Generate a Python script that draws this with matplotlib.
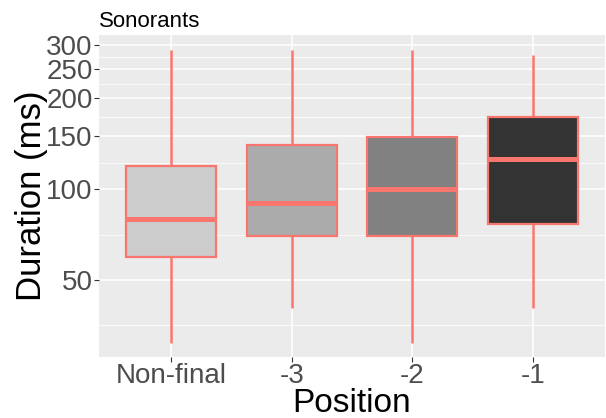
import numpy as np
import matplotlib.pyplot as plt
from matplotlib.ticker import FixedLocator, NullFormatter

plt.rcParams['font.family'] = ['Liberation Sans', 'DejaVu Sans']

# duration summaries (ms) per position
positions = ["Non-final", "-3", "-2", "-1"]
whisker_low = [31.0, 40.4, 31.0, 40.4]
q1 = [59.8, 70.0, 70.0, 76.4]
median = [79.7, 89.9, 100.0, 125.7]
q3 = [119.4, 139.9, 149.4, 173.0]
whisker_high = [289, 289, 289, 279]
fills = ["#CCCCCC", "#ABABAB", "#818181", "#333333"]

y_breaks = [50, 100, 150, 200, 250, 300]
y_minor = [35.36, 70.71, 122.47, 173.21, 223.61, 273.86]

stats = []
for i, lab in enumerate(positions):
    stats.append(dict(label=lab, whislo=whisker_low[i], q1=q1[i], med=median[i],
                      q3=q3[i], whishi=whisker_high[i], fliers=[]))

W, H = 606, 418
fig = plt.figure(figsize=(W / 100, H / 100), dpi=100)
ax = fig.add_axes([99 / W, (H - 357) / H, 506 / W, 322 / H])
ax.set_facecolor("#EBEBEB")

edge = "#F8766D"
xs = np.arange(1, len(positions) + 1)
bp = ax.bxp(stats, positions=xs, widths=0.75, patch_artist=True, showcaps=False,
            boxprops=dict(edgecolor=edge, linewidth=1.6),
            whiskerprops=dict(color=edge, linewidth=1.8, solid_capstyle="butt"),
            medianprops=dict(color=edge, linewidth=3.6, solid_capstyle="butt"))
for patch, c in zip(bp["boxes"], fills):
    patch.set_facecolor(c)
    patch.set_zorder(3)
for ln in bp["whiskers"]:
    ln.set_zorder(2.5)
for ln in bp["medians"]:
    ln.set_zorder(4)

ax.set_yscale("log")
ax.set_ylim(27.8, 324)
ax.set_xlim(0.4, 4.6)
ax.yaxis.set_major_locator(FixedLocator(y_breaks))
ax.yaxis.set_minor_locator(FixedLocator(y_minor))
ax.yaxis.set_major_formatter(plt.FixedFormatter([str(b) for b in y_breaks]))
ax.yaxis.set_minor_formatter(NullFormatter())
ax.set_xticks(xs)
ax.set_xticklabels(positions)

ax.grid(True, which="major", color="white", linewidth=1.1)
ax.grid(True, which="minor", axis="y", color="white", linewidth=0.55)
ax.set_axisbelow(True)
for s in ax.spines.values():
    s.set_visible(False)

ax.tick_params(axis="both", which="major", length=3.5, width=0.8, color="#333333",
               labelsize=20, labelcolor="#4D4D4D", pad=1.0)
ax.tick_params(axis="y", which="minor", length=0)

ax.set_ylabel("Duration (ms)", fontsize=25, color="black", labelpad=-1)
ax.set_xlabel("Position", fontsize=24, color="black", labelpad=-1)
ax.set_title("Sonorants", loc="left", fontsize=16, pad=6)

fig.savefig("out.png", dpi=100)
